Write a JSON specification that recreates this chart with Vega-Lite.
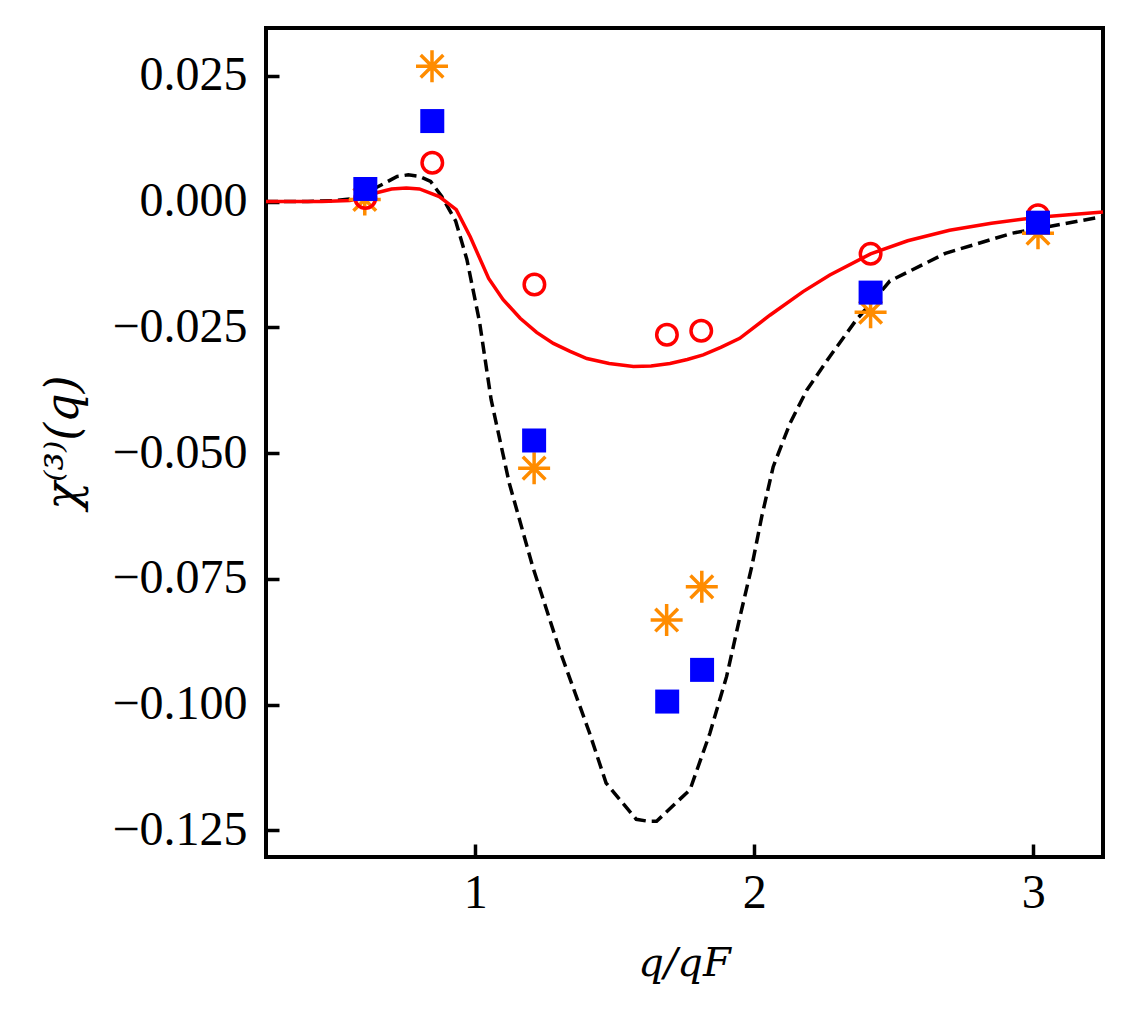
{
  "$schema": "https://vega.github.io/schema/vega-lite/v6.json",
  "width": 837,
  "height": 829,
  "autosize": "none",
  "padding": {"left": 266, "top": 28, "right": 30, "bottom": 157},
  "background": "white",
  "config": {
    "view": {"stroke": "black", "strokeWidth": 4},
    "font": "Liberation Serif",
    "axis": {
      "domain": false,
      "grid": false,
      "ticks": true,
      "zindex": 1,
      "offset": -13,
      "tickColor": "black",
      "tickWidth": 3.5,
      "tickSize": 13,
      "labelFont": "Liberation Serif",
      "labelFontSize": 48,
      "labelColor": "black",
      "titleFont": "DejaVu Serif",
      "titleFontSize": 40,
      "titleFontWeight": "normal",
      "titleFontStyle": "italic",
      "titleColor": "black"
    }
  },
  "datasets": {
    "dash": [
      {"q": 0.25, "chi": 0},
      {"q": 0.4, "chi": 0},
      {"q": 0.5, "chi": 0.0002},
      {"q": 0.55, "chi": 0.0005},
      {"q": 0.6, "chi": 0.0015},
      {"q": 0.67, "chi": 0.0035},
      {"q": 0.72, "chi": 0.005},
      {"q": 0.76, "chi": 0.0053},
      {"q": 0.8, "chi": 0.005},
      {"q": 0.84, "chi": 0.004},
      {"q": 0.88, "chi": 0.001},
      {"q": 0.93, "chi": -0.0039},
      {"q": 0.97, "chi": -0.0115},
      {"q": 1.015, "chi": -0.0238},
      {"q": 1.057, "chi": -0.0394},
      {"q": 1.122, "chi": -0.056},
      {"q": 1.206, "chi": -0.0726},
      {"q": 1.302, "chi": -0.0891},
      {"q": 1.41, "chi": -0.1057},
      {"q": 1.469, "chi": -0.1156},
      {"q": 1.577, "chi": -0.1228},
      {"q": 1.62, "chi": -0.1232},
      {"q": 1.65, "chi": -0.1232},
      {"q": 1.77, "chi": -0.1169},
      {"q": 1.841, "chi": -0.1057},
      {"q": 1.901, "chi": -0.0944},
      {"q": 1.949, "chi": -0.0825},
      {"q": 1.991, "chi": -0.0726},
      {"q": 2.027, "chi": -0.0626},
      {"q": 2.068, "chi": -0.0527},
      {"q": 2.128, "chi": -0.0441},
      {"q": 2.188, "chi": -0.0375},
      {"q": 2.271, "chi": -0.0308},
      {"q": 2.366, "chi": -0.0235},
      {"q": 2.414, "chi": -0.0205},
      {"q": 2.486, "chi": -0.0158},
      {"q": 2.685, "chi": -0.0103},
      {"q": 2.924, "chi": -0.0063},
      {"q": 3.25, "chi": -0.003}
    ],
    "solid": [
      {"q": 0.25, "chi": 0},
      {"q": 0.45, "chi": 0},
      {"q": 0.55, "chi": 0.0002},
      {"q": 0.6, "chi": 0.0008},
      {"q": 0.65, "chi": 0.0018},
      {"q": 0.7, "chi": 0.0025},
      {"q": 0.753, "chi": 0.0027},
      {"q": 0.8, "chi": 0.0025},
      {"q": 0.871, "chi": 0.001},
      {"q": 0.932, "chi": -0.0016},
      {"q": 0.982, "chi": -0.007},
      {"q": 1.048, "chi": -0.0153},
      {"q": 1.1, "chi": -0.0195},
      {"q": 1.161, "chi": -0.0232},
      {"q": 1.22, "chi": -0.026},
      {"q": 1.28, "chi": -0.0282},
      {"q": 1.34, "chi": -0.0298},
      {"q": 1.4, "chi": -0.0312},
      {"q": 1.48, "chi": -0.0322},
      {"q": 1.567, "chi": -0.0328},
      {"q": 1.63, "chi": -0.0327},
      {"q": 1.698, "chi": -0.0322},
      {"q": 1.76, "chi": -0.0314},
      {"q": 1.817, "chi": -0.0305},
      {"q": 1.88, "chi": -0.029},
      {"q": 1.948, "chi": -0.0272},
      {"q": 2.056, "chi": -0.0226},
      {"q": 2.175, "chi": -0.0179},
      {"q": 2.271, "chi": -0.0146},
      {"q": 2.417, "chi": -0.0104},
      {"q": 2.55, "chi": -0.0078},
      {"q": 2.7, "chi": -0.0057},
      {"q": 2.85, "chi": -0.0043},
      {"q": 3.017, "chi": -0.0031},
      {"q": 3.25, "chi": -0.0021}
    ],
    "stars": [
      {"q": 0.604, "chi": 0.0004},
      {"q": 0.845, "chi": 0.0269},
      {"q": 1.211, "chi": -0.053},
      {"q": 1.686, "chi": -0.0832},
      {"q": 1.812, "chi": -0.0766},
      {"q": 2.417, "chi": -0.022},
      {"q": 3.017, "chi": -0.0063}
    ],
    "circles": [
      {"q": 0.606, "chi": 0.0007},
      {"q": 0.846, "chi": 0.0077},
      {"q": 1.212, "chi": -0.0165},
      {"q": 1.687, "chi": -0.0265},
      {"q": 1.81, "chi": -0.0257},
      {"q": 2.417, "chi": -0.0104},
      {"q": 3.017, "chi": -0.0027}
    ],
    "squares": [
      {"q": 0.606, "chi": 0.0025},
      {"q": 0.846, "chi": 0.016},
      {"q": 1.211, "chi": -0.0475},
      {"q": 1.688, "chi": -0.0994},
      {"q": 1.813, "chi": -0.0931},
      {"q": 2.417, "chi": -0.0181},
      {"q": 3.017, "chi": -0.0042}
    ]
  },
  "encoding": {
    "x": {
      "field": "q",
      "type": "quantitative",
      "scale": {"domain": [0.25, 3.25], "nice": false, "zero": false},
      "axis": {
        "title": "q/qF",
        "values": [1, 2, 3],
        "format": "d",
        "labelPadding": 12,
        "titleX": 418,
        "titleY": 119,
        "titleBaseline": "middle"
      }
    },
    "y": {
      "field": "chi",
      "type": "quantitative",
      "scale": {"domain": [-0.1303, 0.0345], "nice": false, "zero": false},
      "axis": {
        "title": "χ⁽³⁾(q)",
        "titleFontSize": 46,
        "values": [-0.125, -0.1, -0.075, -0.05, -0.025, 0, 0.025],
        "format": ".3f",
        "labelPadding": 19,
        "titleX": -216,
        "titleY": 414,
        "titleAngle": -90,
        "titleAlign": "center",
        "titleBaseline": "middle"
      }
    }
  },
  "layer": [
    {
      "data": {"name": "dash"},
      "mark": {"type": "line", "color": "black", "strokeWidth": 3.5, "strokeDash": [12, 6]}
    },
    {
      "data": {"name": "solid"},
      "mark": {"type": "line", "color": "#ff0000", "strokeWidth": 3.5}
    },
    {
      "data": {"name": "stars"},
      "mark": {
        "type": "point",
        "shape": "M-1,0L1,0M0,-1L0,1M-0.707,-0.707L0.707,0.707M-0.707,0.707L0.707,-0.707",
        "filled": false,
        "stroke": "#ff8c00",
        "strokeWidth": 3.5,
        "size": 1024,
        "opacity": 1
      }
    },
    {
      "data": {"name": "circles"},
      "mark": {
        "type": "point",
        "shape": "circle",
        "filled": false,
        "stroke": "#ff0000",
        "strokeWidth": 3.5,
        "size": 420,
        "opacity": 1
      }
    },
    {
      "data": {"name": "squares"},
      "mark": {
        "type": "square",
        "color": "#0000ff",
        "size": 576,
        "opacity": 1
      }
    }
  ]
}
